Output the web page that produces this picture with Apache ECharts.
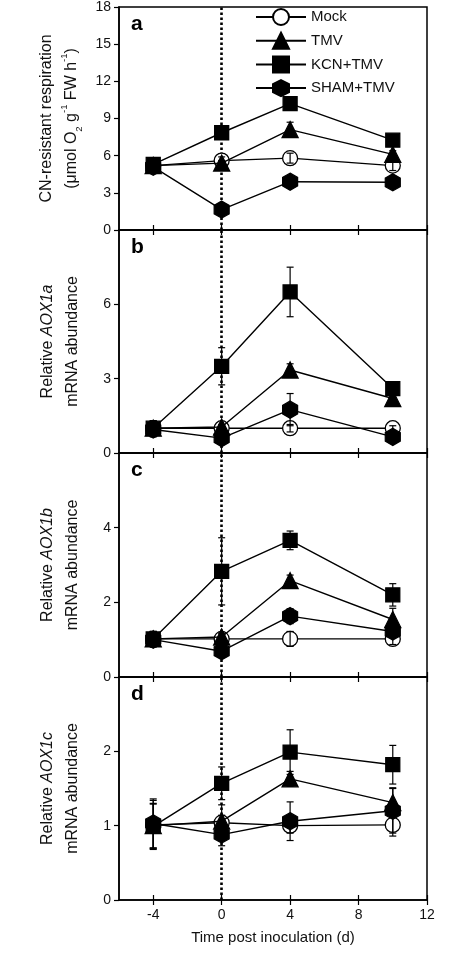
<!DOCTYPE html>
<html>
<head>
<meta charset="utf-8">
<script src="https://cdn.jsdelivr.net/npm/echarts@6/dist/echarts.min.js"></script>
<style>
html,body{margin:0;padding:0;background:#fff;}
#chart{width:474px;height:958px;}
</style>
</head>
<body>
<div id="chart"></div>
<script>
// ---- data ----
const timePoints = [-4, 0, 4, 10];
const seriesNames = ['Mock', 'TMV', 'KCN+TMV', 'SHAM+TMV'];
const xTicks = [-4, 0, 4, 8, 12];

// panel a: CN-resistant respiration
const mockA = [5.2, 5.6, 5.8, 5.2];
const tmvA  = [5.2, 5.4, 8.1, 6.1];
const kcnA  = [5.3, 7.85, 10.2, 7.25];
const shamA = [5.1, 1.65, 3.9, 3.85];
const mockAErr = [0.2, 0.3, 0.4, 0.4];
const tmvAErr  = [0.3, 0.2, 0.6, 0.3];
const kcnAErr  = [0.2, 0.2, 0.2, 0.2];
const shamAErr = [0.2, 0.2, 0.2, 0.2];

// panel b: AOX1a
const mockB = [1.0, 1.0, 1.0, 1.0];
const tmvB  = [1.0, 1.05, 3.35, 2.2];
const kcnB  = [1.0, 3.5, 6.5, 2.6];
const shamB = [0.95, 0.6, 1.75, 0.65];
const mockBErr = [0.2, 0.1, 0.15, 0.1];
const tmvBErr  = [0.3, 0.1, 0.25, 0.25];
const kcnBErr  = [0.3, 0.75, 1.0, 0.2];
const shamBErr = [0.3, 0.15, 0.65, 0.1];

// panel c: AOX1b
const mockC = [1.02, 1.02, 1.02, 1.02];
const tmvC  = [1.02, 1.07, 2.58, 1.54];
const kcnC  = [1.02, 2.83, 3.66, 2.2];
const shamC = [1.0, 0.69, 1.63, 1.22];
const mockCErr = [0.2, 0.1, 0.2, 0.15];
const tmvCErr  = [0.2, 0.1, 0.15, 0.3];
const kcnCErr  = [0.2, 0.9, 0.25, 0.3];
const shamCErr = [0.2, 0.1, 0.2, 0.1];

// panel d: AOX1c
const mockD = [1.01, 1.04, 1.0, 1.01];
const tmvD  = [1.0, 1.06, 1.63, 1.31];
const kcnD  = [0.99, 1.57, 1.99, 1.82];
const shamD = [1.03, 0.88, 1.06, 1.2];
const mockDErr = [0.33, 0.1, 0.1, 0.15];
const tmvDErr  = [0.3, 0.22, 0.1, 0.2];
const kcnDErr  = [0.3, 0.22, 0.3, 0.26];
const shamDErr = [0.33, 0.15, 0.26, 0.3];

const yMax = [18, 9, 6, 3];
const yInterval = [3, 3, 2, 1];
const panelLetters = ['a', 'b', 'c', 'd'];

// ---- layout / style ----
const FONT = "'Liberation Sans', Arial, sans-serif";
const panels = [
  {vals:[mockA,tmvA,kcnA,shamA], errs:[mockAErr,tmvAErr,kcnAErr,shamAErr], top:7, height:223},
  {vals:[mockB,tmvB,kcnB,shamB], errs:[mockBErr,tmvBErr,kcnBErr,shamBErr], top:230, height:223},
  {vals:[mockC,tmvC,kcnC,shamC], errs:[mockCErr,tmvCErr,kcnCErr,shamCErr], top:453, height:224},
  {vals:[mockD,tmvD,kcnD,shamD], errs:[mockDErr,tmvDErr,kcnDErr,shamDErr], top:677, height:223}
];
const hexPath = 'path://M0,-1 L0.866,-0.5 L0.866,0.5 L0,1 L-0.866,0.5 L-0.866,-0.5 Z';
const symbols = ['circle', 'triangle', 'rect', hexPath];
const symbolSizes = [15, 16, 14, [15, 17]];
const fills = ['#fff', '#000', '#000', '#000'];

const richName = {
  n: {fontSize: 16, fontFamily: FONT, color: '#111', lineHeight: 25},
  i: {fontSize: 16, fontFamily: FONT, color: '#111', fontStyle: 'italic', lineHeight: 25},
  sup: {fontSize: 9.5, fontFamily: FONT, color: '#111', verticalAlign: 'top', lineHeight: 25},
  sub: {fontSize: 9.5, fontFamily: FONT, color: '#111', verticalAlign: 'bottom', lineHeight: 25}
};
const yNames = [
  '{n|CN-resistant respiration}\n{n|(μmol O}{sub|2}{n| g}{sup|-1}{n| FW h}{sup|-1}{n|)}',
  '{n|Relative }{i|AOX1a}\n{n|mRNA abundance}',
  '{n|Relative }{i|AOX1b}\n{n|mRNA abundance}',
  '{n|Relative }{i|AOX1c}\n{n|mRNA abundance}'
];

const grids = [], xAxes = [], yAxes = [], series = [], titles = [];
panels.forEach((p, pi) => {
  grids.push({left: 119, right: 47, top: p.top, height: p.height, show: true,
    borderColor: '#000', borderWidth: 1.5, backgroundColor: 'transparent'});
  titles.push({text: panelLetters[pi], left: 126, top: p.top + 2,
    textStyle: {fontSize: 21, fontWeight: 'bold', fontFamily: FONT, color: '#000'}});
  const isLast = pi === panels.length - 1;
  xAxes.push({
    type: 'value', gridIndex: pi, min: -6, max: 12, position: 'bottom',
    splitLine: {show: false},
    axisLine: {show: true, onZero: false, lineStyle: {color: '#000', width: 1.5}},
    axisTick: {show: true, inside: true, length: 5, customValues: xTicks, lineStyle: {color: '#000', width: 1.2}},
    axisLabel: {show: isLast, customValues: xTicks, fontSize: 14, fontFamily: FONT, color: '#111', margin: 8},
    name: isLast ? 'Time post inoculation (d)' : '',
    nameLocation: 'middle', nameGap: 30,
    nameTextStyle: {fontSize: 15, fontFamily: FONT, color: '#111'}
  });
  yAxes.push({
    type: 'value', gridIndex: pi, min: 0, max: yMax[pi], interval: yInterval[pi],
    splitLine: {show: false},
    axisLine: {show: true, onZero: false, lineStyle: {color: '#000', width: 1.5}},
    axisTick: {show: true, inside: false, length: 5, lineStyle: {color: '#000', width: 1.2}},
    axisLabel: {fontSize: 14, fontFamily: FONT, color: '#111', margin: 8, showMaxLabel: pi === 0},
    name: yNames[pi], nameLocation: 'middle', nameGap: 34, nameRotate: 90,
    nameTextStyle: {rich: richName, align: 'center'}
  });
  p.vals.forEach((vals, si) => {
    const s = {
      type: 'line', name: seriesNames[si], xAxisIndex: pi, yAxisIndex: pi,
      data: timePoints.map((t, i) => [t, vals[i]]),
      symbol: symbols[si], symbolSize: symbolSizes[si],
      lineStyle: {color: '#000', width: 1.4},
      itemStyle: {color: fills[si], borderColor: '#000', borderWidth: 1.3},
      z: 3 + si, animation: false
    };
    if (si === 0) {
      s.markLine = {
        silent: true, symbol: ['none', 'none'], label: {show: false},
        lineStyle: {color: '#000', type: [2.5, 2.5], width: 2.6},
        data: [{xAxis: 0}], animation: false, z: 1
      };
    }
    series.push(s);
  });
  const errData = [];
  p.vals.forEach((vals, si) => {
    timePoints.forEach((t, i) => {
      errData.push([t, vals[i] - p.errs[si][i], vals[i] + p.errs[si][i]]);
    });
  });
  series.push({
    type: 'custom', xAxisIndex: pi, yAxisIndex: pi, data: errData, z: 10,
    encode: {x: 0, y: [1, 2]}, silent: true, animation: false,
    renderItem: (params, api) => {
      const x = api.value(0);
      const top = api.coord([x, api.value(2)]);
      const bot = api.coord([x, api.value(1)]);
      const w = 3.5;
      const st = {stroke: '#000', lineWidth: 1.2};
      return {type: 'group', children: [
        {type: 'line', shape: {x1: top[0], y1: top[1], x2: bot[0], y2: bot[1]}, style: st},
        {type: 'line', shape: {x1: top[0] - w, y1: top[1], x2: top[0] + w, y2: top[1]}, style: st},
        {type: 'line', shape: {x1: bot[0] - w, y1: bot[1], x2: bot[0] + w, y2: bot[1]}, style: st}
      ]};
    }
  });
});
// mirrored inside ticks on top edges
panels.forEach((p, pi) => {
  xAxes.push({
    type: 'value', gridIndex: pi, min: -6, max: 12, position: 'top',
    splitLine: {show: false}, axisLine: {show: false},
    axisTick: {show: true, inside: true, length: 5, customValues: xTicks, lineStyle: {color: '#000', width: 1.2}},
    axisLabel: {show: false}
  });
});

const chart = echarts.init(document.getElementById('chart'), null, {renderer: 'canvas'});
chart.setOption({
  animation: false,
  backgroundColor: '#fff',
  title: titles,
  legend: {
    data: seriesNames, orient: 'vertical', left: 250, top: 3,
    itemWidth: 50, itemHeight: 20, itemGap: 5.7,
    textStyle: {fontSize: 15, fontFamily: FONT, color: '#111'}
  },
  grid: grids, xAxis: xAxes, yAxis: yAxes, series: series
});
</script>
</body>
</html>
